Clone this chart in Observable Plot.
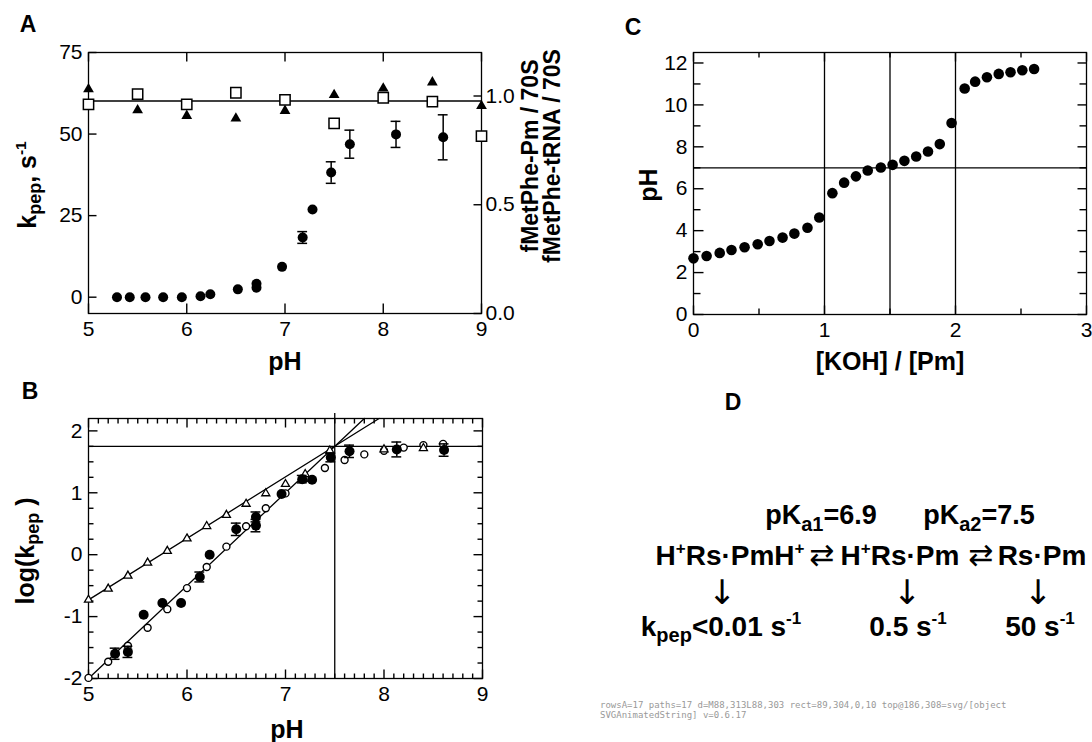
<!DOCTYPE html>
<html><head><meta charset="utf-8">
<script src="https://cdn.jsdelivr.net/npm/d3@7"></script>
<script src="https://cdn.jsdelivr.net/npm/@observablehq/plot@0.6"></script>
<style>
body{margin:0;background:#fff;font-family:"Liberation Sans",Arial,Helvetica,sans-serif;}
#fig{position:relative;width:1092px;height:742px;overflow:hidden;background:#fff;}
.abs{position:absolute;}
.lbl{position:absolute;font-weight:bold;white-space:nowrap;color:#000;line-height:1;}
.lbl sub{font-size:0.72em;vertical-align:-0.28em;line-height:0;}
.lbl sup{font-size:0.62em;vertical-align:0.6em;line-height:0;}
</style></head><body><div id="fig"></div><script>
// ---------- Panel A data ----------
const phA_k = [5.29,5.42,5.58,5.76,5.95,6.14,6.24,6.52,6.71,6.71,6.97,7.18,7.28,7.47,7.66,8.13,8.61];
const kpepA = [0,0,0,0,0,0.3,0.9,2.4,2.9,4.1,9.3,18.3,26.9,38.2,46.9,49.9,49.0];
const kpepErrA = [0,0,0,0,0,0,0,0,0,0,0,1.8,0,3.3,4.3,4.0,6.9];
const phA_ratio = [5,5.5,6,6.5,7,7.5,8,8.5,9];
const pmRatio = [0.962,1.009,0.962,1.015,0.982,0.874,0.992,0.974,0.816];
const trnaRatio = [1.031,0.935,0.909,0.897,0.932,1.005,1.035,1.063,0.954];
const ratioMean = [0.977];
const ticksA_x = [5,6,7,8,9];
const ticksA_yLeft = [0,25,50,75];
const ticksA_yRight = [0,0.5,1.0];

// ---------- Panel B data ----------
const phB_open = [5.0,5.2,5.4,5.6,5.8,6.0,6.2,6.4,6.6,6.8,7.0,7.2,7.4,7.6,7.8,8.0,8.2,8.4,8.6];
const logOpen = [-1.99,-1.73,-1.47,-1.18,-0.88,-0.54,-0.20,0.13,0.46,0.75,0.99,1.23,1.40,1.53,1.62,1.68,1.73,1.77,1.79];
const phB_tri = [5.0,5.2,5.4,5.6,5.8,6.0,6.2,6.4,6.6,6.8,7.0,7.2,7.45,8.0,8.4];
const logTri = [-0.73,-0.55,-0.34,-0.13,0.06,0.26,0.46,0.64,0.82,0.99,1.14,1.30,1.68,1.70,1.72];
const phB_fill = [5.27,5.40,5.56,5.75,5.94,6.13,6.23,6.50,6.70,6.70,6.96,7.17,7.27,7.46,7.65,8.13,8.61];
const logFill = [-1.60,-1.57,-0.97,-0.78,-0.78,-0.36,0.0,0.41,0.61,0.47,0.98,1.22,1.21,1.57,1.67,1.70,1.69];
const logFillErr = [0.09,0.09,0,0,0,0.08,0,0.1,0.08,0.1,0,0.06,0,0.07,0.1,0.12,0.1];
const fitSteepPh = [5.0,7.8], fitSteepLog = [-2.0,2.2];
const fitShallowPh = [5.0,7.95], fitShallowLog = [-0.73,2.2];
const pKaLine = [7.5], logKmaxLine = [1.75];
const ticksB_x = [5,6,7,8,9];
const ticksB_y = [-2,-1,0,1,2];

// ---------- Panel C data ----------
const kohRatio = [0.0,0.10,0.20,0.29,0.39,0.49,0.58,0.68,0.77,0.87,0.96,1.06,1.15,1.24,1.33,1.43,1.52,1.61,1.70,1.79,1.88,1.97,2.07,2.15,2.24,2.33,2.42,2.51,2.60];
const phC = [2.68,2.79,2.94,3.08,3.21,3.35,3.51,3.67,3.86,4.14,4.63,5.79,6.29,6.59,6.87,7.01,7.14,7.33,7.54,7.78,8.13,9.14,10.78,11.11,11.32,11.48,11.56,11.65,11.71];
const gridC_x = [1,1.5,2];
const gridC_y = [7];
const ticksC_x = [0,1,2,3];
const ticksC_y = [0,2,4,6,8,10,12];

const FONT = '"Liberation Sans", Arial, Helvetica, sans-serif';
const fig = document.getElementById('fig');
const baseStyle = {fontFamily: FONT, fontSize: "21px", background: "transparent", overflow: "visible"};
const diag = [];

function place(node, left, top) {
  const d = document.createElement('div');
  d.className = 'abs'; d.style.left = left + 'px'; d.style.top = top + 'px';
  d.appendChild(node); fig.appendChild(d);
  return d;
}
function errMarks(rows, cap, sw) {
  const r = rows.filter(d => d.e > 0);
  return [
    Plot.ruleX(r, {x: "x", y1: d => d.y - d.e, y2: d => d.y + d.e, stroke: "black", strokeWidth: sw}),
    Plot.ruleY(r, {y: d => d.y + d.e, x1: d => d.x - cap, x2: d => d.x + cap, stroke: "black", strokeWidth: sw}),
    Plot.ruleY(r, {y: d => d.y - d.e, x1: d => d.x - cap, x2: d => d.x + cap, stroke: "black", strokeWidth: sw})
  ];
}
// inward frame ticks: rows of short segments that start on the frame; pixel length -> data units
function tickRows(xd, yd, innerW, innerH, specs) {
  const ux = (xd[1] - xd[0]) / innerW, uy = (yd[1] - yd[0]) / innerH;
  const rows = [];
  for (const [side, values, len] of specs) {
    for (const v of values) {
      if (side === "bottom") rows.push({x1: v, x2: v, y1: yd[0], y2: yd[0] + len * uy});
      else if (side === "top") rows.push({x1: v, x2: v, y1: yd[1], y2: yd[1] - len * uy});
      else if (side === "left") rows.push({x1: xd[0], x2: xd[0] + len * ux, y1: v, y2: v});
      else rows.push({x1: xd[1], x2: xd[1] - len * ux, y1: v, y2: v});
    }
  }
  return rows;
}
const tickMark = rows => Plot.link(rows, {x1: "x1", y1: "y1", x2: "x2", y2: "y2", stroke: "black", strokeWidth: 1.4});
const intFmt = d => String(Math.round(d));

// ---------- Panel A ----------
const r2l = r => -5 + r / 1.2 * 80;
const l2r = v => (v + 5) / 80 * 1.2;
const xdA = [5, 9], ydA = [-5, 75];
const tickRowsA = tickRows(xdA, ydA, 393, 261, [
  ["bottom", ticksA_x, 10], ["top", ticksA_x, 9],
  ["left", ticksA_yLeft, 8], ["right", ticksA_yRight.map(r2l), 8]
]);
const rowsA = phA_k.map((x, i) => ({x, y: kpepA[i], e: kpepErrA[i]}));
const sqA = phA_ratio.map((x, i) => ({x, y: r2l(pmRatio[i])}));
const trA = phA_ratio.map((x, i) => ({x, y: r2l(trnaRatio[i])}));
const plotA = Plot.plot({
  width: 560, height: 370, marginLeft: 88, marginRight: 79, marginTop: 52, marginBottom: 57,
  style: baseStyle,
  x: {domain: xdA}, y: {domain: ydA},
  marks: [
    Plot.frame({stroke: "black", strokeWidth: 1.3}),
    tickMark(tickRowsA),
    Plot.ruleY(ratioMean.map(r2l), {stroke: "black", strokeWidth: 1.3}),
    Plot.axisX({anchor: "bottom", ticks: ticksA_x, tickSize: 0, tickPadding: 8, label: null, tickFormat: intFmt}),
    Plot.axisY({anchor: "left", ticks: ticksA_yLeft, tickSize: 0, tickPadding: 6, label: null, tickFormat: intFmt}),
    Plot.axisY({anchor: "right", ticks: ticksA_yRight.map(r2l), tickSize: 0, tickPadding: 4, label: null, tickFormat: v => l2r(v).toFixed(1)}),
    ...errMarks(rowsA, 0.05, 1.5),
    Plot.dot(trA, {x: "x", y: "y", symbol: "triangle", r: 4, fill: "black", stroke: "none"}),
    Plot.dot(sqA, {x: "x", y: "y", symbol: "square", r: 5.8, fill: "white", stroke: "black", strokeWidth: 1.5}),
    Plot.dot(rowsA, {x: "x", y: "y", r: 5, fill: "black", stroke: "none"})
  ]
});
place(plotA, 0, 0);

// ---------- Panel B ----------
const xdB = [5, 9], ydB = [-2, 2.2];
const minorBx = d3.range(50, 91).map(i => i / 10).filter(v => Math.abs(v - Math.round(v)) > 1e-9);
const minorBy = d3.range(-8, 9).map(i => i / 4).filter(v => Math.abs(v - Math.round(v)) > 1e-9);
const tickRowsB = tickRows(xdB, ydB, 394, 260, [
  ["bottom", ticksB_x, 9], ["bottom", minorBx, 5], ["top", ticksB_x, 9], ["top", minorBx, 5],
  ["left", ticksB_y, 9], ["left", minorBy, 5], ["right", ticksB_y, 9], ["right", minorBy, 5]
]);
const openB = phB_open.map((x, i) => ({x, y: logOpen[i]}));
const triB = phB_tri.map((x, i) => ({x, y: logTri[i]}));
const fillB = phB_fill.map((x, i) => ({x, y: logFill[i], e: logFillErr[i]}));
const steep = fitSteepPh.map((x, i) => ({x, y: fitSteepLog[i]}));
const shallow = fitShallowPh.map((x, i) => ({x, y: fitShallowLog[i]}));
const plotB = Plot.plot({
  width: 560, height: 372, marginLeft: 88, marginRight: 78, marginTop: 48, marginBottom: 64,
  style: baseStyle,
  x: {domain: xdB}, y: {domain: ydB},
  marks: [
    Plot.frame({stroke: "black", strokeWidth: 1.3}),
    tickMark(tickRowsB),
    Plot.axisX({anchor: "bottom", ticks: ticksB_x, tickSize: 0, tickPadding: 8, label: null, tickFormat: intFmt}),
    Plot.axisY({anchor: "left", ticks: ticksB_y, tickSize: 0, tickPadding: 6, label: null, tickFormat: intFmt}),
    Plot.ruleY(logKmaxLine, {stroke: "black", strokeWidth: 1.3}),
    Plot.ruleX(pKaLine, {y1: -2, y2: 2.28, stroke: "black", strokeWidth: 1.3}),
    Plot.line(steep, {x: "x", y: "y", stroke: "black", strokeWidth: 1.3}),
    Plot.line(shallow, {x: "x", y: "y", stroke: "black", strokeWidth: 1.3}),
    Plot.dot(openB, {x: "x", y: "y", r: 3.5, fill: "white", stroke: "black", strokeWidth: 1.4}),
    Plot.dot(triB, {x: "x", y: "y", symbol: "triangle", r: 3, fill: "white", stroke: "black", strokeWidth: 1.3}),
    ...errMarks(fillB, 0.05, 1.5),
    Plot.dot(fillB, {x: "x", y: "y", r: 5, fill: "black", stroke: "none"})
  ]
});
place(plotB, 0, 370);

// ---------- Panel C ----------
const xdC = [0, 3], ydC = [0, 12.5];
const minorCx = [0.5, 1.5, 2.5];
const minorCy = [1, 3, 5, 7, 9, 11];
const tickRowsC = tickRows(xdC, ydC, 393, 262, [
  ["bottom", ticksC_x, 9], ["bottom", minorCx, 6], ["top", ticksC_x, 9], ["top", minorCx, 5],
  ["left", ticksC_y, 10], ["left", minorCy, 7], ["right", ticksC_y, 9], ["right", minorCy, 7]
]);
const rowsC = kohRatio.map((x, i) => ({x, y: phC[i]}));
const plotC = Plot.plot({
  width: 512, height: 370, marginLeft: 113, marginRight: 6, marginTop: 52, marginBottom: 56,
  style: baseStyle,
  x: {domain: xdC}, y: {domain: ydC},
  marks: [
    Plot.frame({stroke: "black", strokeWidth: 1.3}),
    tickMark(tickRowsC),
    Plot.axisX({anchor: "bottom", ticks: ticksC_x, tickSize: 0, tickPadding: 8, label: null, tickFormat: intFmt}),
    Plot.axisY({anchor: "left", ticks: ticksC_y, tickSize: 0, tickPadding: 6, label: null, tickFormat: intFmt}),
    Plot.ruleX(gridC_x, {stroke: "black", strokeWidth: 1.3}),
    Plot.ruleY(gridC_y, {stroke: "black", strokeWidth: 1.3}),
    Plot.dot(rowsC, {x: "x", y: "y", r: 5.3, fill: "black", stroke: "none"})
  ]
});
place(plotC, 580, 0);

// ---------- Labels ----------
const labels = [
  {html: 'A', x: 28, y: 24, size: 23},
  {html: 'B', x: 30, y: 391, size: 23},
  {html: 'C', x: 633, y: 27, size: 23},
  {html: 'D', x: 733, y: 402, size: 23},
  {html: 'pH', x: 285, y: 361, size: 25},
  {html: 'pH', x: 287, y: 729, size: 25},
  {html: '[KOH] / [Pm]', x: 890, y: 361, size: 25},
  {html: 'k<sub>pep</sub>, s<sup>-1</sup>', x: 27, y: 185, size: 25, rot: true},
  {html: 'fMetPhe-Pm / 70S', x: 530, y: 156, size: 23, rot: true},
  {html: 'fMetPhe-tRNA / 70S', x: 552, y: 156, size: 23, rot: true},
  {html: 'log(k<sub>pep</sub> )', x: 25, y: 551, size: 25, rot: true},
  {html: 'pH', x: 648, y: 185, size: 25, rot: true}
];
for (const l of labels) {
  const d = document.createElement('div');
  d.className = 'lbl';
  d.innerHTML = l.html;
  d.style.left = l.x + 'px'; d.style.top = l.y + 'px';
  d.style.fontSize = l.size + 'px';
  d.style.transform = 'translate(-50%,-50%)' + (l.rot ? ' rotate(-90deg)' : '');
  fig.appendChild(d);
}

// ---------- Panel D (scheme text) ----------
const NS = 'http://www.w3.org/2000/svg';
const svgD = document.createElementNS(NS, 'svg');
svgD.setAttribute('width', 492); svgD.setAttribute('height', 300);
svgD.setAttribute('viewBox', '600 380 492 300');
svgD.style.position = 'absolute'; svgD.style.left = '600px'; svgD.style.top = '380px';
svgD.innerHTML = `
<g font-family='"Liberation Sans", Arial, sans-serif' font-weight="bold" fill="#000" text-anchor="middle">
  <text x="821" y="524" font-size="27">pK<tspan font-size="20" dy="7">a1</tspan><tspan dy="-7">=6.9</tspan></text>
  <text x="979" y="524" font-size="27">pK<tspan font-size="20" dy="7">a2</tspan><tspan dy="-7">=7.5</tspan></text>
  <text x="730" y="565" font-size="28">H<tspan font-size="17" dy="-11">+</tspan><tspan dy="11">Rs·PmH</tspan><tspan font-size="17" dy="-11">+</tspan></text>
  <text x="900" y="565" font-size="28">H<tspan font-size="17" dy="-11">+</tspan><tspan dy="11">Rs·Pm</tspan></text>
  <text x="1042" y="565" font-size="28">Rs·Pm</text>
  <text x="721" y="636" font-size="28">k<tspan font-size="20" dy="6">pep</tspan><tspan dy="-6">&lt;0.01 s</tspan><tspan font-size="17" dy="-12">-1</tspan></text>
  <text x="908" y="636" font-size="28">0.5 s<tspan font-size="17" dy="-12">-1</tspan></text>
  <text x="1040" y="636" font-size="28">50 s<tspan font-size="17" dy="-12">-1</tspan></text>
</g>
<g font-family='"DejaVu Sans", sans-serif' fill="#000" text-anchor="middle">
  <text x="822" y="565" font-size="30">⇄</text>
  <text x="981" y="565" font-size="30">⇄</text>
  <text x="722" y="604" font-size="34">↓</text>
  <text x="907" y="604" font-size="34">↓</text>
  <text x="1038" y="604" font-size="34">↓</text>
</g>`;
fig.appendChild(svgD);

// ---------- diagnostic (small, bottom right) ----------
try {
  const g = plotA.querySelector('g[aria-label="link"]');
  const n = g ? g.querySelectorAll('path').length : -1;
  const p = g ? g.querySelector('path') : null;
  const r = p ? p.getBoundingClientRect() : null;
  const el = document.elementFromPoint(186, 308);
  diag.push('rowsA=' + tickRowsA.length + ' paths=' + n + ' d=' + (p ? p.getAttribute('d') : '-') +
    ' rect=' + (r ? [r.x, r.y, r.width, r.height].map(v => Math.round(v)).join(',') : '-') +
    ' top@186,308=' + (el ? el.tagName + '/' + (el.getAttribute('aria-label') || el.className || '') : 'none') +
    ' v=' + Plot.version);
} catch (e) { diag.push('ERR ' + e.message); }
const dd = document.createElement('div');
dd.textContent = diag.join(' ');
dd.style.cssText = 'position:absolute;left:600px;top:700px;width:490px;font:9px monospace;color:#999;';
fig.appendChild(dd);
</script></body></html>
